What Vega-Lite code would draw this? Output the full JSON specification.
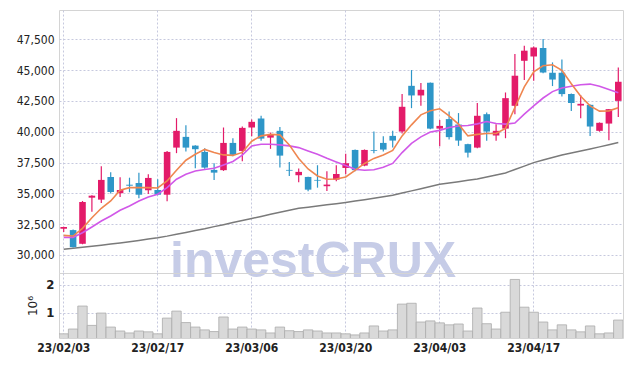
{
  "$schema": "https://vega.github.io/schema/vega-lite/v6.json",
  "background": "white",
  "padding": {"left": 15, "top": 9, "right": 9, "bottom": 0},
  "spacing": 0,
  "bounds": "flush",
  "config": {
    "view": {"stroke": "#d4d4d4"},
    "axis": {"domain": false, "ticks": false, "labelFont": "DejaVu Sans Condensed", "labelFontSize": 12, "labelColor": "#222222", "gridColor": "#c6c9de", "gridDash": [2, 2], "gridWidth": 1}
  },
  "data": {"values": [
    {"date": "23/02/03", "o": 32130, "h": 32300, "l": 31860, "c": 32270, "ma5": 31595, "ma20": 31432, "ma60": 30457, "v": 250000},
    {"date": "23/02/06", "o": 32020, "h": 32060, "l": 30600, "c": 30640, "ma5": 31538, "ma20": 31432, "ma60": 30540, "v": 420000},
    {"date": "23/02/07", "o": 30910, "h": 34380, "l": 30870, "c": 34300, "ma5": 32164, "ma20": 31806, "ma60": 30630, "v": 1240000},
    {"date": "23/02/08", "o": 34650, "h": 34850, "l": 33510, "c": 34810, "ma5": 33024, "ma20": 32269, "ma60": 30710, "v": 550000},
    {"date": "23/02/09", "o": 34490, "h": 37200, "l": 34220, "c": 36090, "ma5": 33788, "ma20": 32756, "ma60": 30800, "v": 990000},
    {"date": "23/02/10", "o": 36330, "h": 36710, "l": 34980, "c": 35110, "ma5": 34381, "ma20": 33162, "ma60": 30887, "v": 490000},
    {"date": "23/02/13", "o": 35010, "h": 36310, "l": 34710, "c": 35270, "ma5": 35250, "ma20": 33625, "ma60": 30980, "v": 350000},
    {"date": "23/02/14", "o": 35700, "h": 36270, "l": 35090, "c": 35620, "ma5": 35461, "ma20": 33976, "ma60": 31080, "v": 280000},
    {"date": "23/02/15", "o": 35840, "h": 36680, "l": 34600, "c": 34890, "ma5": 35461, "ma20": 34381, "ma60": 31180, "v": 350000},
    {"date": "23/02/16", "o": 35250, "h": 36550, "l": 34950, "c": 36250, "ma5": 35461, "ma20": 34706, "ma60": 31290, "v": 320000},
    {"date": "23/02/17", "o": 35270, "h": 36140, "l": 34850, "c": 34890, "ma5": 35437, "ma20": 34926, "ma60": 31399, "v": 250000},
    {"date": "23/02/20", "o": 34890, "h": 38440, "l": 34360, "c": 38360, "ma5": 36006, "ma20": 35461, "ma60": 31530, "v": 810000},
    {"date": "23/02/21", "o": 38710, "h": 41100, "l": 38260, "c": 40070, "ma5": 36875, "ma20": 36144, "ma60": 31680, "v": 1060000},
    {"date": "23/02/22", "o": 39580, "h": 40530, "l": 38390, "c": 38710, "ma5": 37687, "ma20": 36550, "ma60": 31830, "v": 650000},
    {"date": "23/02/23", "o": 38870, "h": 38900, "l": 37040, "c": 38580, "ma5": 38174, "ma20": 36818, "ma60": 31980, "v": 490000},
    {"date": "23/02/24", "o": 38360, "h": 38660, "l": 37000, "c": 37090, "ma5": 38565, "ma20": 36940, "ma60": 32130, "v": 390000},
    {"date": "23/02/27", "o": 36900, "h": 37440, "l": 36090, "c": 36680, "ma5": 38305, "ma20": 37037, "ma60": 32300, "v": 330000},
    {"date": "23/02/28", "o": 36880, "h": 40340, "l": 36820, "c": 39090, "ma5": 38118, "ma20": 37305, "ma60": 32460, "v": 850000},
    {"date": "23/03/02", "o": 39090, "h": 39470, "l": 38010, "c": 38120, "ma5": 38077, "ma20": 37589, "ma60": 32630, "v": 420000},
    {"date": "23/03/03", "o": 38440, "h": 40420, "l": 37610, "c": 40310, "ma5": 38321, "ma20": 38101, "ma60": 32790, "v": 490000},
    {"date": "23/03/06", "o": 40340, "h": 40990, "l": 39640, "c": 40800, "ma5": 39230, "ma20": 38849, "ma60": 32959, "v": 420000},
    {"date": "23/03/07", "o": 41070, "h": 41290, "l": 39260, "c": 39440, "ma5": 39661, "ma20": 38987, "ma60": 33130, "v": 390000},
    {"date": "23/03/08", "o": 39520, "h": 39930, "l": 38610, "c": 39800, "ma5": 39783, "ma20": 38987, "ma60": 33300, "v": 280000},
    {"date": "23/03/09", "o": 40070, "h": 40390, "l": 37090, "c": 38060, "ma5": 39742, "ma20": 38930, "ma60": 33460, "v": 490000},
    {"date": "23/03/10", "o": 36900, "h": 37550, "l": 36410, "c": 36840, "ma5": 38930, "ma20": 38849, "ma60": 33630, "v": 360000},
    {"date": "23/03/13", "o": 36470, "h": 37010, "l": 35900, "c": 36740, "ma5": 37833, "ma20": 38711, "ma60": 33788, "v": 330000},
    {"date": "23/03/14", "o": 36330, "h": 36350, "l": 35170, "c": 35300, "ma5": 36980, "ma20": 38443, "ma60": 33880, "v": 390000},
    {"date": "23/03/15", "o": 36090, "h": 37280, "l": 35460, "c": 36030, "ma5": 36412, "ma20": 38175, "ma60": 33975, "v": 350000},
    {"date": "23/03/16", "o": 35580, "h": 36790, "l": 35190, "c": 35710, "ma5": 36144, "ma20": 37850, "ma60": 34070, "v": 280000},
    {"date": "23/03/17", "o": 36110, "h": 37280, "l": 35980, "c": 36570, "ma5": 36168, "ma20": 37549, "ma60": 34165, "v": 280000},
    {"date": "23/03/20", "o": 37060, "h": 38220, "l": 36550, "c": 37440, "ma5": 36331, "ma20": 37265, "ma60": 34259, "v": 250000},
    {"date": "23/03/21", "o": 38520, "h": 38560, "l": 36800, "c": 36880, "ma5": 36859, "ma20": 36956, "ma60": 34370, "v": 210000},
    {"date": "23/03/22", "o": 37250, "h": 38560, "l": 37200, "c": 38520, "ma5": 37427, "ma20": 36875, "ma60": 34490, "v": 280000},
    {"date": "23/03/23", "o": 38500, "h": 40010, "l": 38260, "c": 38440, "ma5": 37833, "ma20": 36916, "ma60": 34610, "v": 530000},
    {"date": "23/03/24", "o": 39090, "h": 39640, "l": 38390, "c": 38550, "ma5": 38118, "ma20": 37119, "ma60": 34730, "v": 350000},
    {"date": "23/03/27", "o": 39660, "h": 40070, "l": 38710, "c": 39280, "ma5": 38483, "ma20": 37427, "ma60": 34844, "v": 390000},
    {"date": "23/03/28", "o": 40010, "h": 43050, "l": 39850, "c": 42020, "ma5": 39661, "ma20": 38305, "ma60": 35020, "v": 1310000},
    {"date": "23/03/29", "o": 43720, "h": 45000, "l": 41910, "c": 42940, "ma5": 40555, "ma20": 39052, "ma60": 35200, "v": 1340000},
    {"date": "23/03/30", "o": 42940, "h": 43940, "l": 42100, "c": 43400, "ma5": 41367, "ma20": 39580, "ma60": 35380, "v": 670000},
    {"date": "23/03/31", "o": 43970, "h": 44000, "l": 40200, "c": 40250, "ma5": 41692, "ma20": 39970, "ma60": 35560, "v": 710000},
    {"date": "23/04/03", "o": 40250, "h": 40950, "l": 38820, "c": 40470, "ma5": 41854, "ma20": 40108, "ma60": 35737, "v": 640000},
    {"date": "23/04/04", "o": 41020, "h": 41640, "l": 39360, "c": 39560, "ma5": 41286, "ma20": 40335, "ma60": 35840, "v": 570000},
    {"date": "23/04/05", "o": 40580, "h": 41510, "l": 38850, "c": 39280, "ma5": 40611, "ma20": 40457, "ma60": 35950, "v": 600000},
    {"date": "23/04/06", "o": 38990, "h": 39020, "l": 37900, "c": 38300, "ma5": 39661, "ma20": 40497, "ma60": 36060, "v": 350000},
    {"date": "23/04/07", "o": 38710, "h": 42320, "l": 38660, "c": 41290, "ma5": 39783, "ma20": 40636, "ma60": 36168, "v": 1170000},
    {"date": "23/04/10", "o": 41420, "h": 41550, "l": 39260, "c": 40010, "ma5": 39848, "ma20": 40823, "ma60": 36330, "v": 610000},
    {"date": "23/04/11", "o": 39690, "h": 40610, "l": 39260, "c": 40070, "ma5": 39848, "ma20": 40660, "ma60": 36490, "v": 420000},
    {"date": "23/04/12", "o": 40250, "h": 43180, "l": 39470, "c": 42720, "ma5": 40271, "ma20": 40611, "ma60": 36655, "v": 1020000},
    {"date": "23/04/13", "o": 42100, "h": 46300, "l": 41420, "c": 44540, "ma5": 41960, "ma20": 40701, "ma60": 36930, "v": 2190000},
    {"date": "23/04/14", "o": 45750, "h": 46970, "l": 44190, "c": 46570, "ma5": 43641, "ma20": 41424, "ma60": 37210, "v": 1200000},
    {"date": "23/04/17", "o": 46100, "h": 46900, "l": 44130, "c": 46830, "ma5": 44860, "ma20": 42098, "ma60": 37492, "v": 1020000},
    {"date": "23/04/18", "o": 46790, "h": 47520, "l": 44750, "c": 44800, "ma5": 45347, "ma20": 42732, "ma60": 37700, "v": 670000},
    {"date": "23/04/19", "o": 44780, "h": 45620, "l": 43700, "c": 44230, "ma5": 45428, "ma20": 43251, "ma60": 37910, "v": 390000},
    {"date": "23/04/20", "o": 44780, "h": 45860, "l": 42850, "c": 43050, "ma5": 44981, "ma20": 43544, "ma60": 38117, "v": 570000},
    {"date": "23/04/21", "o": 43050, "h": 43100, "l": 41670, "c": 42320, "ma5": 43885, "ma20": 43682, "ma60": 38280, "v": 390000},
    {"date": "23/04/24", "o": 42120, "h": 42970, "l": 41100, "c": 42260, "ma5": 42870, "ma20": 43804, "ma60": 38440, "v": 320000},
    {"date": "23/04/25", "o": 42180, "h": 42200, "l": 39660, "c": 40420, "ma5": 42098, "ma20": 43861, "ma60": 38605, "v": 530000},
    {"date": "23/04/26", "o": 40070, "h": 40750, "l": 40000, "c": 40720, "ma5": 41668, "ma20": 43682, "ma60": 38770, "v": 250000},
    {"date": "23/04/27", "o": 40660, "h": 41850, "l": 39310, "c": 41830, "ma5": 41692, "ma20": 43414, "ma60": 38940, "v": 280000},
    {"date": "23/04/28", "o": 42500, "h": 45210, "l": 41200, "c": 44050, "ma5": 41936, "ma20": 43154, "ma60": 39117, "v": 740000}
  ]},
  "vconcat": [
    {
      "width": 564,
      "height": 263,
      "encoding": {
        "x": {"field": "date", "type": "ordinal",
              "scale": {"paddingInner": 0, "paddingOuter": 0,
                        "domain": ["23/02/03","23/02/06","23/02/07","23/02/08","23/02/09","23/02/10","23/02/13","23/02/14","23/02/15","23/02/16","23/02/17","23/02/20","23/02/21","23/02/22","23/02/23","23/02/24","23/02/27","23/02/28","23/03/02","23/03/03","23/03/06","23/03/07","23/03/08","23/03/09","23/03/10","23/03/13","23/03/14","23/03/15","23/03/16","23/03/17","23/03/20","23/03/21","23/03/22","23/03/23","23/03/24","23/03/27","23/03/28","23/03/29","23/03/30","23/03/31","23/04/03","23/04/04","23/04/05","23/04/06","23/04/07","23/04/10","23/04/11","23/04/12","23/04/13","23/04/14","23/04/17","23/04/18","23/04/19","23/04/20","23/04/21","23/04/24","23/04/25","23/04/26","23/04/27","23/04/28"]},
              "axis": {"values": ["23/02/03", "23/02/17", "23/03/06", "23/03/20", "23/04/03", "23/04/17"], "labels": false, "title": null, "grid": true}}
      },
      "layer": [
        {
          "data": {"values": [{"t": "investCRUX", "date": "23/03/14", "p": 28250}]},
          "mark": {"type": "text", "font": "Liberation Sans", "fontWeight": "bold", "fontSize": 50, "color": "#c6cce7", "align": "center", "baseline": "alphabetic", "dx": 5},
          "encoding": {
            "y": {"field": "p", "type": "quantitative",
                  "scale": {"domain": [28540, 49870], "zero": false, "nice": false},
                  "axis": {"values": [30000, 32500, 35000, 37500, 40000, 42500, 45000, 47500], "labelExpr": "format(datum.value, ',')", "labelOverlap": false, "title": null, "labelPadding": 5, "grid": true}},
            "text": {"field": "t"}
          }
        },
        {
          "mark": {"type": "line", "color": "#7a7a7a", "strokeWidth": 1.5},
          "encoding": {"y": {"field": "ma60", "type": "quantitative",
                  "axis": {"values": [30000, 32500, 35000, 37500, 40000, 42500, 45000, 47500], "labelExpr": "format(datum.value, ',')", "labelOverlap": false, "title": null, "labelPadding": 5, "grid": true}}}
        },
        {
          "mark": {"type": "rule", "strokeWidth": 1.2},
          "encoding": {
            "y": {"field": "l", "type": "quantitative",
                  "axis": {"values": [30000, 32500, 35000, 37500, 40000, 42500, 45000, 47500], "labelExpr": "format(datum.value, ',')", "labelOverlap": false, "title": null, "labelPadding": 5, "grid": true}},
            "y2": {"field": "h"},
            "color": {"condition": {"test": "datum.c >= datum.o", "value": "#e31b69"}, "value": "#2e96c8"}
          }
        },
        {
          "mark": {"type": "bar", "width": {"band": 0.7}},
          "encoding": {
            "y": {"field": "o", "type": "quantitative",
                  "axis": {"values": [30000, 32500, 35000, 37500, 40000, 42500, 45000, 47500], "labelExpr": "format(datum.value, ',')", "labelOverlap": false, "title": null, "labelPadding": 5, "grid": true}},
            "y2": {"field": "c"},
            "color": {"condition": {"test": "datum.c >= datum.o", "value": "#e31b69"}, "value": "#2e96c8"}
          }
        },
        {
          "mark": {"type": "line", "color": "#d158e8", "strokeWidth": 1.6},
          "encoding": {"y": {"field": "ma20", "type": "quantitative",
                  "axis": {"values": [30000, 32500, 35000, 37500, 40000, 42500, 45000, 47500], "labelExpr": "format(datum.value, ',')", "labelOverlap": false, "title": null, "labelPadding": 5, "grid": true}}}
        },
        {
          "mark": {"type": "line", "color": "#ef8650", "strokeWidth": 1.6},
          "encoding": {"y": {"field": "ma5", "type": "quantitative",
                  "axis": {"values": [30000, 32500, 35000, 37500, 40000, 42500, 45000, 47500], "labelExpr": "format(datum.value, ',')", "labelOverlap": false, "title": null, "labelPadding": 5, "grid": true}}}
        }
      ]
    },
    {
      "width": 564,
      "height": 65,
      "mark": {"type": "bar", "width": {"band": 1}, "fill": "#d9d9d9", "stroke": "#ababab", "strokeWidth": 0.8, "clip": true},
      "encoding": {
        "x": {"field": "date", "type": "ordinal", "sort": null, "scale": {"paddingInner": 0, "paddingOuter": 0},
              "axis": {"values": ["23/02/03", "23/02/17", "23/03/06", "23/03/20", "23/04/03", "23/04/17"], "title": null, "grid": true, "labelAngle": 0, "labelFontWeight": "bold", "labelFontSize": 12, "labelPadding": 4}},
        "y": {"field": "v", "type": "quantitative",
              "scale": {"domain": [100000, 2420000], "zero": false, "nice": false},
              "axis": {"values": [1000000, 2000000], "labelExpr": "datum.value / 1000000", "labelFontWeight": "bold", "labelFontSize": 13, "labelPadding": 5, "title": "10⁶", "titleFont": "DejaVu Sans", "titleFontWeight": "normal", "titleFontSize": 12, "titleColor": "#222222", "titlePadding": 6, "grid": true}}
      }
    }
  ]
}
